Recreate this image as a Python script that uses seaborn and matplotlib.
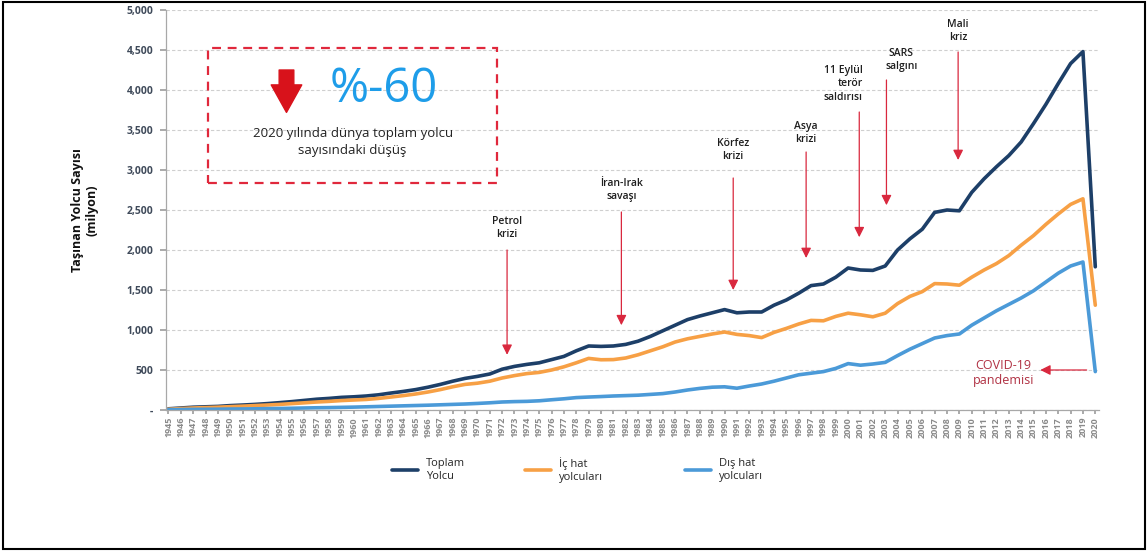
import matplotlib
matplotlib.use("Agg")
import matplotlib.pyplot as plt
import seaborn as sns
import pandas as pd
import numpy as np
from matplotlib.patches import Rectangle
from matplotlib.lines import Line2D

years = list(range(1945, 2021))
total = [15, 25, 35, 40, 45, 55, 62, 70, 80, 92, 105, 120, 135, 145, 158, 165, 175, 190, 212, 232,
         255, 285, 320, 360, 395, 420, 450, 510, 545, 570, 590, 630, 670, 740, 800, 795, 800, 820, 860, 920,
         990, 1060, 1130, 1175, 1215, 1255, 1215, 1225, 1225, 1310, 1375, 1460, 1555, 1575, 1660, 1775, 1750, 1745, 1800, 2000,
         2140, 2260, 2470, 2500, 2490, 2720, 2890, 3040, 3180, 3350, 3580, 3820, 4080, 4330, 4480, 1790]
domestic = [10, 18, 25, 30, 35, 42, 48, 55, 62, 70, 80, 90, 100, 108, 118, 125, 132, 145, 162, 180,
            200, 225, 255, 290, 320, 335, 360, 400, 430, 455, 470, 500, 540, 590, 645, 628, 630, 650, 690, 740,
            790, 850, 890, 920, 950, 975, 945, 930, 905, 970, 1020, 1075, 1120, 1115, 1170, 1210, 1190, 1165, 1210, 1330,
            1420, 1480, 1580, 1575, 1560, 1660, 1750, 1830, 1930, 2060, 2180, 2320, 2450, 2570, 2640, 1310]
international = [5, 6, 8, 9, 10, 12, 13, 15, 17, 19, 22, 25, 28, 30, 33, 36, 40, 44, 48, 52,
                 56, 60, 65, 70, 75, 82, 90, 100, 105, 108, 115, 128, 140, 155, 162, 168, 175, 180, 185, 195,
                 205, 225, 250, 270, 285, 290, 272, 300, 325, 360, 400, 440, 460, 480, 520, 580, 560, 575, 595, 680,
                 760, 830, 900, 930, 950, 1060, 1150, 1240, 1320, 1400, 1490, 1600, 1710, 1800, 1850, 480]

series_names = ["Toplam\nYolcu", "İç hat\nyolcuları", "Dış hat\nyolcuları"]
colors = ["#1d3f68", "#f7a045", "#4b9ad8"]

y_ticks = [0, 500, 1000, 1500, 2000, 2500, 3000, 3500, 4000, 4500, 5000]
y_tick_labels = ["-", "500", "1,000", "1,500", "2,000", "2,500", "3,000", "3,500", "4,000", "4,500", "5,000"]

events = ["Petrol\nkrizi", "İran-Irak\nsavaşı", "Körfez\nkrizi", "Asya\nkrizi",
          "11 Eylül\nterör\nsaldırısı", "SARS\nsalgını", "Mali\nkriz"]

df = pd.DataFrame({
    "Yıl": years * 3,
    "Yolcu": total + domestic + international,
    "Seri": [series_names[0]] * len(years) + [series_names[1]] * len(years) + [series_names[2]] * len(years),
})

sns.set_theme(style="white")
plt.rcParams["font.family"] = ["Open Sans", "DejaVu Sans"]

fig = plt.figure(figsize=(11.48, 5.51), dpi=100)
ax = fig.add_axes([166 / 1148, 1 - 410 / 551, (1099 - 166) / 1148, (410 - 10) / 551])

sns.lineplot(data=df, x="Yıl", y="Yolcu", hue="Seri", palette=dict(zip(series_names, colors)),
             linewidth=2.6, ax=ax, legend=False)

ax.set_xlim(1944.8, 2020.3)
ax.set_ylim(0, 5000)
ax.set_yticks(y_ticks)
ax.set_yticklabels(y_tick_labels, fontsize=7.5, fontweight="bold", color="#3f4a5a")
ax.set_xticks(years)
ax.set_xticklabels([str(y) for y in years], rotation=90, fontsize=6.5, fontweight="bold", color="#8a8a8a")
ax.tick_params(axis="y", length=4, color="#a0a0a0", pad=5, left=True)
ax.tick_params(axis="x", length=3, color="#a0a0a0", pad=2, bottom=True)
ax.set_xlabel("")
ax.set_ylabel("Taşınan Yolcu Sayısı\n(milyon)", fontsize=9, fontweight="bold", color="#111111", labelpad=20)
ax.grid(axis="y", color="#cfcfcf", linestyle=(0, (3, 2)), linewidth=0.8)
ax.grid(axis="x", visible=False)
for s in ["top", "right"]:
    ax.spines[s].set_visible(False)
for s in ["left", "bottom"]:
    ax.spines[s].set_color("#a8a8a8")
    ax.spines[s].set_linewidth(0.9)

red = "#d9283e"
txt_kw = dict(fontsize=7.5, color="#1e1e1e", ha="center", va="center", fontweight="semibold", linespacing=1.25)
arr_kw = dict(arrowstyle="-|>,head_width=0.25,head_length=0.5", color=red, lw=0.9, shrinkA=0, shrinkB=0)

# (text x, text y, arrow x, arrow start y, arrow end y)
event_pos = [
    (1972.4, 2275, 1972.4, 2000, 690),
    (1981.65, 2750, 1981.65, 2475, 1060),
    (1990.7, 3250, 1990.7, 2900, 1500),
    (1996.6, 3460, 1996.6, 3225, 1900),
    (1999.6, 4075, 2000.9, 3725, 2160),
    (2004.3, 4375, 2003.1, 4125, 2560),
    (2008.9, 4740, 2008.9, 4475, 3125),
]
for label, (tx, ty, axx, ay0, ay1) in zip(events, event_pos):
    ha = "right" if label.startswith("11") else "center"
    kw = dict(txt_kw)
    kw["ha"] = ha
    if ha == "right":
        tx = tx + 1.6
        kw["multialignment"] = "right"
    ax.text(tx, ty, label, **kw)
    ax.annotate("", xy=(axx, ay1), xytext=(axx, ay0), arrowprops=arr_kw)

# COVID annotation
ax.text(2012.55, 460, "COVID-19\npandemisi", fontsize=9, color="#b03042", ha="center", va="center",
        linespacing=1.2)
ax.annotate("", xy=(2015.55, 500), xytext=(2019.3, 500), arrowprops=arr_kw)

# Info box
ax.add_patch(Rectangle((1948.2, 2838), 1971.6 - 1948.2, 4525 - 2838, fill=False, edgecolor="#e0283c",
                       linestyle=(0, (4, 3)), linewidth=1.6, zorder=5))
ax.annotate("", xy=(1954.55, 3720), xytext=(1954.55, 4250),
            arrowprops=dict(arrowstyle="simple,head_width=1.0,head_length=0.9,tail_width=0.48",
                            color="#d8121b", shrinkA=0, shrinkB=0, mutation_scale=22))
ax.text(1962.4, 4010, "%-60", fontsize=34, color="#1e9de9", ha="center", va="center")
ax.text(1959.9, 3350, "2020 yılında dünya toplam yolcu\nsayısındaki düşüş", fontsize=9.5, color="#222222",
        ha="center", va="center", linespacing=1.35)

# Legend: three separate entries placed like the reference
legend_x = [388 / 1148, 521 / 1148, 681 / 1148]
for name, c, lx in zip(series_names, colors, legend_x):
    leg = fig.legend([Line2D([0], [0], color=c, lw=2.6)], [name], loc="center left",
                     bbox_to_anchor=(lx, 0.147), frameon=False, fontsize=8, handlelength=2.3,
                     handletextpad=0.7, borderaxespad=0)

# Outer frame
fig.add_artist(Rectangle((0.003, 0.004), 0.994, 0.992, transform=fig.transFigure, fill=False,
                         edgecolor="black", linewidth=1.5))

fig.savefig("out.png", dpi=100)
